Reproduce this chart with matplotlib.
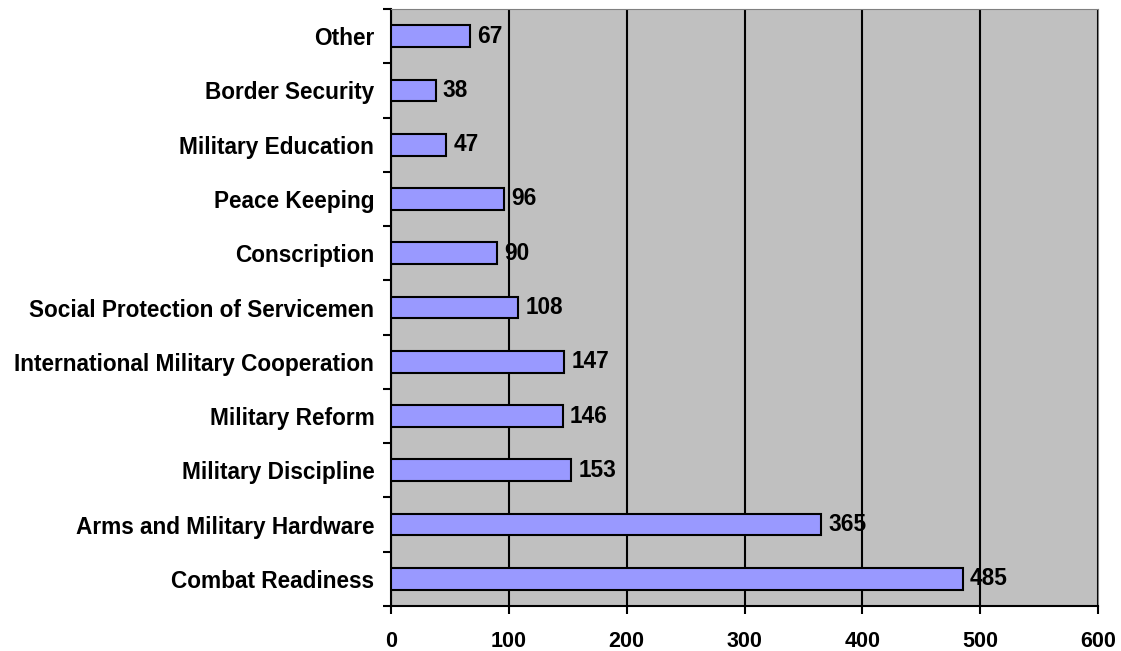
import matplotlib.pyplot as plt
import numpy as np

categories = ["Combat Readiness", "Arms and Military Hardware", "Military Discipline",
              "Military Reform", "International Military Cooperation",
              "Social Protection of Servicemen", "Conscription", "Peace Keeping",
              "Military Education", "Border Security", "Other"]
values = [485, 365, 153, 146, 147, 108, 90, 96, 47, 38, 67]
x_ticks = [0, 100, 200, 300, 400, 500, 600]

plt.rcParams['font.family'] = ['Liberation Sans', 'DejaVu Sans']
plt.rcParams['font.weight'] = 'bold'
fs = 16.3

fig = plt.figure(figsize=(11.21, 6.51), dpi=100)
ax = fig.add_axes([0.3488, 0.0691, 0.6307, 0.917])
ax.set_facecolor('#C0C0C0')

y = np.arange(len(categories))
ax.barh(y, values, height=0.4, color='#9999FF', edgecolor='black', linewidth=1.5, zorder=3)

for yi, v in zip(y, values):
    ax.text(v + 6, yi, str(v), va='center', ha='left', fontsize=fs, fontweight='bold', zorder=4)

ax.set_xlim(0, 600)
ax.set_ylim(-0.5, len(categories) - 0.5)
ax.set_xticks(x_ticks)
ax.set_xticklabels([str(t) for t in x_ticks], fontsize=15.5, fontweight='bold')
ax.set_yticks(y)
ax.set_yticklabels(categories, fontsize=fs, fontweight='bold')
ax.set_yticks(np.arange(len(categories) + 1) - 0.5, minor=True)

ax.tick_params(axis='y', which='major', length=0, pad=12)
ax.tick_params(axis='y', which='minor', length=6, width=1.5, direction='out')
ax.tick_params(axis='x', which='major', length=6, width=1.5, direction='out', pad=12)

# vertical grid lines at each hundred
ax.xaxis.grid(True, color='black', linewidth=1.5, zorder=1)
ax.set_axisbelow(True)

ax.spines['left'].set_linewidth(1.5)
ax.spines['bottom'].set_linewidth(1.5)
ax.spines['top'].set_color('#808080')
ax.spines['right'].set_color('#808080')

fig.savefig('out.png', dpi=100)
